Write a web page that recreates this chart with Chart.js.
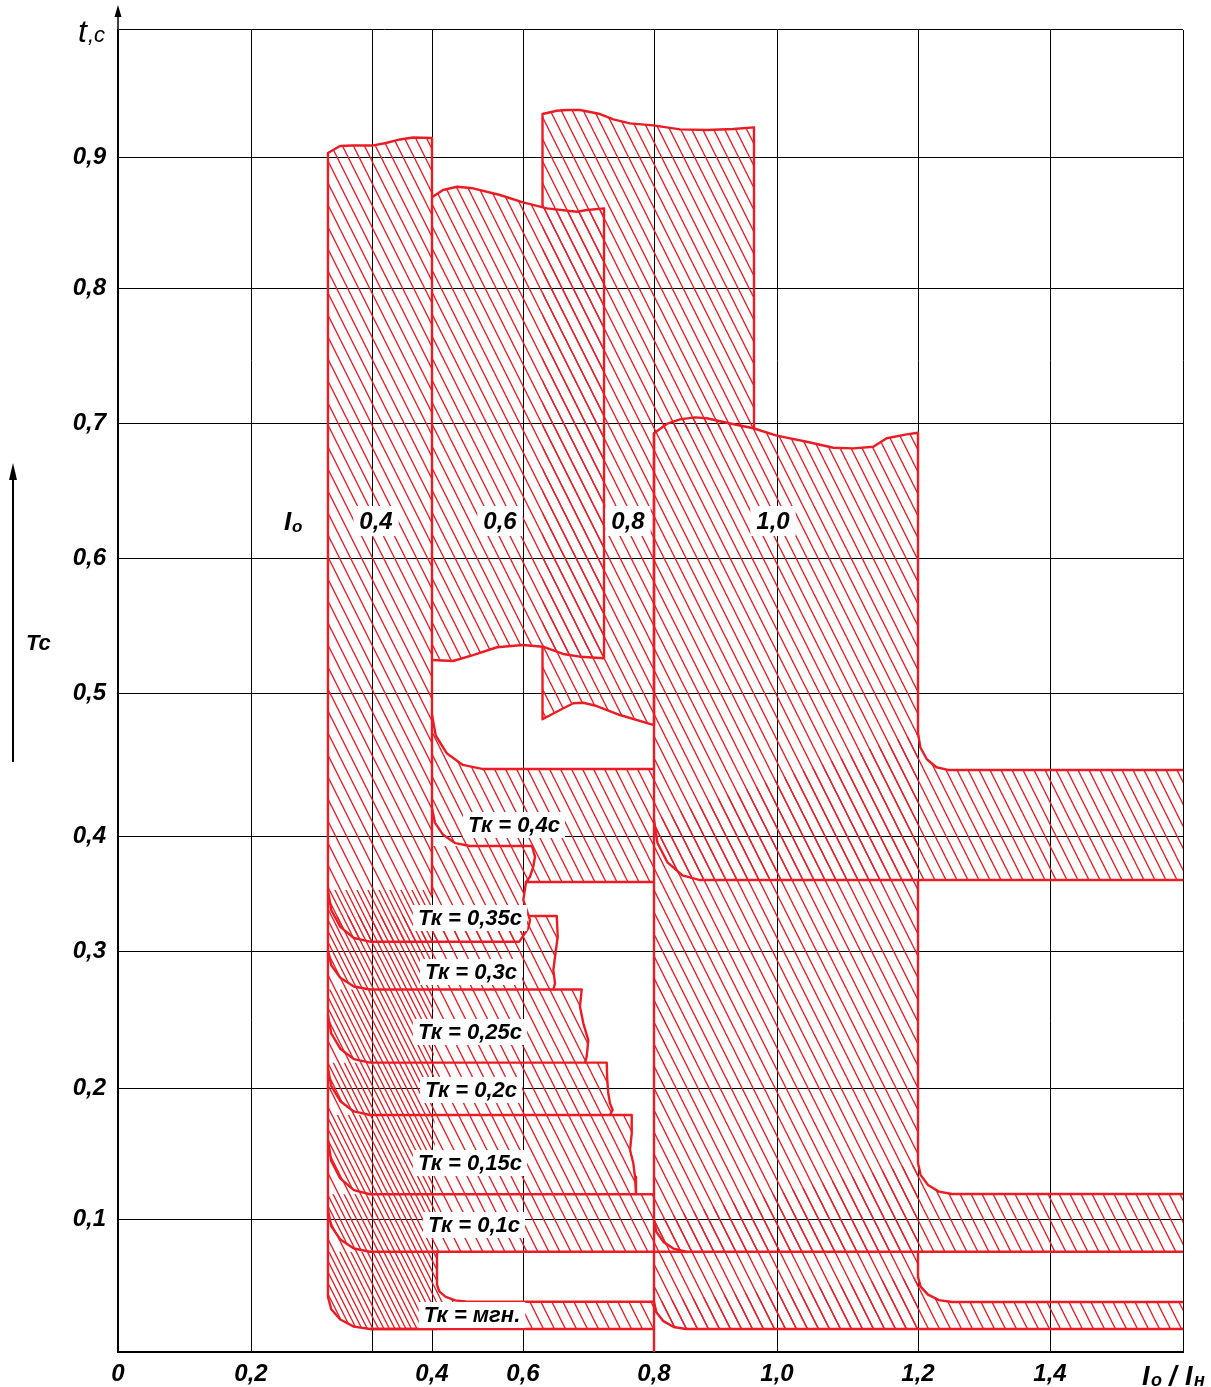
<!DOCTYPE html>
<html>
<head>
<meta charset="utf-8">
<script src="https://cdn.jsdelivr.net/npm/chart.js@4.4.1/dist/chart.umd.min.js"></script>
<style>
  html, body { margin: 0; padding: 0; background: #fff; }
</style>
</head>
<body>
<canvas id="chart" width="1211" height="1387"></canvas>
<script>
const RED = '#ec1c24';
const FONT = "'Liberation Sans', Arial, sans-serif";

// axes: I0/In horizontally, t (s) vertically
const xTickValues = [0, 0.2, 0.3, 0.4, 0.6, 0.8, 1.0, 1.2, 1.4, 1.6];
const xTickLabels = ['0', '0,2', '', '0,4', '0,6', '0,8', '1,0', '1,2', '1,4', ''];
const yTickValues = [0, 0.1, 0.2, 0.3, 0.4, 0.5, 0.6, 0.7, 0.8, 0.9, 0.9955];
const yTickLabels = ['', '0,1', '0,2', '0,3', '0,4', '0,5', '0,6', '0,7', '0,8', '0,9', ''];

// columns for I0 = 0.4, 0.6, 0.8, 1.0  ([I0/In, t])
const col04 = [[0.4,0.3487],[0.4,0.9143],[0.3683,0.9147],[0.3467,0.9132],[0.3233,0.9105],[0.3,0.9086],[0.2835,0.9086],[0.2736,0.9083],[0.2636,0.9030],[0.2636,0.0414],[0.2663,0.0321],[0.2738,0.0244],[0.2850,0.0191],[0.2983,0.0173],[0.4110,0.0173]];
const col06 = [[0.4,0.8692],[0.4242,0.8748],[0.4549,0.8773],[0.4901,0.8761],[0.5495,0.8710],[0.6,0.8654],[0.6366,0.8608],[0.6824,0.8582],[0.6977,0.8595],[0.7237,0.8608],[0.7237,0.5257],[0.6870,0.5269],[0.6611,0.5289],[0.6305,0.5343],[0.6,0.5356],[0.5429,0.5339],[0.4901,0.5281],[0.4462,0.5237],[0.4,0.5244]];
const col08 = [[0.8,0.6924],[0.8,0.4776],[0.7481,0.4846],[0.7125,0.4909],[0.6921,0.4932],[0.6768,0.4928],[0.6565,0.4881],[0.6298,0.4816],[0.6298,0.5343],[0.6298,0.8617],[0.6298,0.9323],[0.6515,0.9348],[0.6667,0.9353],[0.6870,0.9353],[0.7176,0.9323],[0.7379,0.9283],[0.7634,0.9253],[0.7989,0.9238],[0.8423,0.9208],[0.8857,0.9203],[0.9289,0.9211],[0.9626,0.9223],[0.9626,0.6961]];
const col10 = [[0.8,0],[0.8,0.6924],[0.8207,0.6993],[0.8423,0.7027],[0.8667,0.7042],[0.8857,0.7035],[0.9182,0.7002],[0.9615,0.6961],[0.9995,0.6906],[1.0421,0.6861],[1.0799,0.6817],[1.1083,0.6812],[1.1366,0.6824],[1.1556,0.6887],[1.1840,0.6916],[1.2,0.6928],[1.2,0.4720],[1.2,0.3617],[1.2,0.1427],[1.2,0.0754],[1.2,0.0564],[1.2,0.0173],[0.8520,0.0173],[0.8320,0.0188],[0.8153,0.0232],[0.8039,0.0298],[0.8,0.0376]];

// Tk bands
const band040 = [[0.4,0.4846],[0.4084,0.4701],[0.4323,0.4579],[0.4679,0.4497],[0.5099,0.4469],[0.8,0.4469],[0.8,0.3600],[0.6046,0.3600],[0.6107,0.3646],[0.6157,0.3733],[0.6183,0.3820],[0.6137,0.3913],[0.4835,0.3913],[0.4514,0.3938],[0.4244,0.4008],[0.4064,0.4094],[0.4,0.4196]];
const band035 = [[0.4835,0.3913],[0.6137,0.3913],[0.6183,0.3820],[0.6157,0.3733],[0.6107,0.3646],[0.6046,0.3600],[0.6005,0.3443],[0.6056,0.3357],[0.6107,0.3270],[0.6081,0.3197],[0.5919,0.3081],[0.2983,0.3081],[0.2850,0.3113],[0.2738,0.3210],[0.2663,0.3357],[0.2636,0.3530],[0.4,0.3530],[0.4,0.3913]];
const band030 = [[0.6084,0.3304],[0.6515,0.3304],[0.6530,0.3124],[0.6489,0.2958],[0.6463,0.2861],[0.6489,0.2764],[0.6463,0.2719],[0.2983,0.2719],[0.2850,0.2741],[0.2738,0.2804],[0.2663,0.2897],[0.2636,0.3009],[0.2636,0.3304]];
const band025 = [[0.6463,0.2719],[0.6896,0.2719],[0.6870,0.2593],[0.6921,0.2472],[0.6997,0.2350],[0.6972,0.2228],[0.6947,0.2185],[0.2983,0.2185],[0.2850,0.2211],[0.2738,0.2287],[0.2663,0.2399],[0.2636,0.2533],[0.2636,0.2719]];
const band020 = [[0.6947,0.2185],[0.7278,0.2185],[0.7287,0.2058],[0.7302,0.1960],[0.7328,0.1883],[0.7369,0.1832],[0.7328,0.1794],[0.2983,0.1794],[0.2850,0.1821],[0.2738,0.1899],[0.2663,0.2015],[0.2636,0.2146],[0.2636,0.2185]];
const band015 = [[0.7328,0.1794],[0.7660,0.1794],[0.7660,0.1654],[0.7634,0.1527],[0.7684,0.1425],[0.7710,0.1323],[0.7725,0.1189],[0.2983,0.1189],[0.2850,0.1220],[0.2738,0.1310],[0.2663,0.1444],[0.2636,0.1603],[0.2636,0.1794]];
const band010 = [[0.7725,0.1189],[0.8,0.1189],[0.8,0.0754],[0.8520,0.0754],[0.2983,0.0754],[0.2850,0.0778],[0.2738,0.0846],[0.2663,0.0947],[0.2636,0.1069],[0.2636,0.1189]];
const bandInst = [[0.4110,0.0754],[0.4110,0.0504],[0.4160,0.0456],[0.4303,0.0415],[0.4516,0.0388],[0.4769,0.0378],[0.8,0.0378],[0.8,0.0173],[0.2983,0.0173],[0.2850,0.0191],[0.2738,0.0244],[0.2663,0.0321],[0.2636,0.0414],[0.2636,0.0754]];

// bands running right of the I0 = 1.0 column
const strip040 = [[0.8,0.4112],[0.8057,0.3939],[0.8220,0.3770],[0.8462,0.3657],[0.8748,0.3617],[1.6,0.3617],[1.6,0.4462],[1.2455,0.4462],[1.2280,0.4481],[1.2133,0.4537],[1.2035,0.4621],[1.2,0.4720]];
const strip010 = [[0.8,0.0992],[0.8039,0.0903],[0.8153,0.0828],[0.8320,0.0777],[0.8520,0.0754],[1.6,0.0754],[1.6,0.1191],[1.2515,0.1191],[1.2318,0.1209],[1.2152,0.1260],[1.2039,0.1337],[1.2,0.1427]];
const stripInst = [[0.8,0.0376],[0.8039,0.0298],[0.8153,0.0232],[0.8320,0.0188],[0.8520,0.0173],[1.6,0.0173],[1.6,0.0376],[1.2515,0.0376],[1.2318,0.0390],[1.2152,0.0431],[1.2039,0.0492],[1.2,0.0564]];

// text labels
const tkLabels = ['Тк = 0,4с', 'Тк = 0,35с', 'Тк = 0,3с', 'Тк = 0,25с', 'Тк = 0,2с', 'Тк = 0,15с', 'Тк = 0,1с', 'Тк = мгн.'];
const tkSpots = [[0.5802,0.4077],[0.4835,0.3287],[0.4857,0.2847],[0.4835,0.2409],[0.4857,0.1985],[0.4835,0.1427],[0.4923,0.0955],[0.4879,0.0278]];
const ioLabels = ['0,4', '0,6', '0,8', '1,0'];
const ioSpots = [[0.3067,0.6274],[0.5495,0.6274],[0.7603,0.6274],[0.9935,0.6274]];

// piecewise axis: where each grid value sits along the axis (fraction of its length)
const warpKnots = {
  x: { values: xTickValues, frac: [0, 133, 254, 314, 405, 536, 659, 800, 932, 1065].map(v => v / 1065) },
  y: { values: [0, 0.1, 0.2, 0.3, 0.4, 0.5, 0.6, 0.7, 0.8, 0.9, 1.0], frac: [0, 133, 264, 401, 516, 659, 794, 929, 1064, 1195, 1328].map(v => v / 1322) }
};

class WarpScale extends Chart.LinearScale {
  static id = 'warp';
  getPixelForValue(value) {
    const k = warpKnots[this.id];
    let i = 1;
    while (i < k.values.length - 1 && value > k.values[i]) i++;
    const t = (value - k.values[i - 1]) / (k.values[i] - k.values[i - 1]);
    const f = k.frac[i - 1] + t * (k.frac[i] - k.frac[i - 1]);
    return this.isHorizontal() ? this.left + f * this.width : this.bottom - f * this.height;
  }
  getValueForPixel(pixel) {
    const k = warpKnots[this.id];
    const f = this.isHorizontal() ? (pixel - this.left) / this.width : (this.bottom - pixel) / this.height;
    let i = 1;
    while (i < k.frac.length - 1 && f > k.frac[i]) i++;
    return k.values[i - 1] + (f - k.frac[i - 1]) / (k.frac[i] - k.frac[i - 1]) * (k.values[i] - k.values[i - 1]);
  }
}
Chart.register(WarpScale);

// hatch pattern, anchored to the canvas so overlapping areas line up
const patterns = {};
function hatchPattern(ctx, shift) {
  if (!patterns[shift]) {
    const tile = document.createElement('canvas');
    tile.width = 11; tile.height = 22;
    const t = tile.getContext('2d');
    t.strokeStyle = RED;
    t.lineWidth = 1.3;
    for (let k = -2; k <= 2; k++) {
      const x0 = k * 11 + shift;
      t.beginPath();
      t.moveTo(x0 - 1, -2);
      t.lineTo(x0 + 12, 24);
      t.stroke();
    }
    patterns[shift] = ctx.createPattern(tile, 'repeat');
  }
  return patterns[shift];
}

function area(pts, skip, shift) {
  return {
    data: pts.map(p => ({ x: p[0], y: p[1] })),
    showLine: true,
    pointRadius: 0,
    borderColor: RED,
    borderWidth: 2.4,
    borderJoinStyle: 'round',
    tension: 0,
    fill: false,
    hatch: true,
    hatchShift: shift || 0,
    segment: { borderColor: c => skip.includes(c.p0DataIndex) ? 'rgba(0,0,0,0)' : undefined }
  };
}

const datasets = [
  area(col04, [], 5.5),
  area(col06, []),
  area(col08, [8]),
  area(col10, [16, 18, 20, 21, 22, 23, 24, 25]),
  area(band040, [5]),
  area(band035, [0, 1, 2, 3, 4, 15, 16]),
  area(band030, [11]),
  area(band025, [11]),
  area(band020, [11]),
  area(band015, [11]),
  area(band010, [1, 8]),
  area(bandInst, [6, 8, 9, 10, 11, 12]),
  area(strip040, [5]),
  area(strip010, [5]),
  area(stripInst, [5])
];

const hatchPlugin = {
  id: 'hatchFill',
  beforeDatasetDraw(chart, args) {
    const ds = chart.data.datasets[args.index];
    if (!ds.hatch) return;
    const pts = args.meta.data;
    const ctx = chart.ctx;
    const a = chart.chartArea;
    ctx.save();
    ctx.beginPath();
    ctx.rect(a.left, a.top, a.right - a.left, a.bottom - a.top);
    ctx.clip();
    ctx.beginPath();
    pts.forEach((p, i) => i ? ctx.lineTo(p.x, p.y) : ctx.moveTo(p.x, p.y));
    ctx.closePath();
    ctx.fillStyle = hatchPattern(ctx, ds.hatchShift);
    ctx.fill();
    ctx.restore();
  }
};

function boxedText(ctx, text, x, y, font, padX, h) {
  ctx.font = font;
  const w = ctx.measureText(text).width;
  ctx.fillStyle = '#fff';
  ctx.fillRect(x - w / 2 - padX, y - h / 2, w + padX * 2, h);
  ctx.fillStyle = '#000';
  ctx.textAlign = 'center';
  ctx.textBaseline = 'middle';
  ctx.fillText(text, x, y + 1);
}

const labelPlugin = {
  id: 'labels',
  afterDatasetsDraw(chart) {
    const ctx = chart.ctx;
    const sx = chart.scales.x, sy = chart.scales.y;
    ctx.save();
    tkLabels.forEach((t, i) => {
      boxedText(ctx, t, sx.getPixelForValue(tkSpots[i][0]), sy.getPixelForValue(tkSpots[i][1]), `italic bold 22px ${FONT}`, 5, 26);
    });
    ioLabels.forEach((t, i) => {
      boxedText(ctx, t, sx.getPixelForValue(ioSpots[i][0]), sy.getPixelForValue(ioSpots[i][1]), `italic bold 24px ${FONT}`, 6, 30);
    });
    // I0 marker left of the columns
    const ix = sx.getPixelForValue(0.2347), iy = sy.getPixelForValue(0.6274);
    ctx.fillStyle = '#000';
    ctx.textBaseline = 'alphabetic';
    ctx.textAlign = 'left';
    ctx.font = `italic bold 26px ${FONT}`;
    ctx.fillText('I', ix - 9, iy + 9);
    ctx.font = `italic bold 17px ${FONT}`;
    ctx.fillText('о', ix - 1, iy + 11);
    ctx.restore();
  },
  afterDraw(chart) {
    const ctx = chart.ctx;
    const a = chart.chartArea;
    ctx.save();
    ctx.strokeStyle = '#000';
    ctx.fillStyle = '#000';
    // y axis arrow
    ctx.lineWidth = 1.5;
    ctx.beginPath();
    ctx.moveTo(a.left, a.top);
    ctx.lineTo(a.left, a.top - 20);
    ctx.stroke();
    ctx.beginPath();
    ctx.moveTo(a.left, a.top - 25);
    ctx.lineTo(a.left - 3.5, a.top - 13);
    ctx.lineTo(a.left + 3.5, a.top - 13);
    ctx.closePath();
    ctx.fill();
    // Tc arrow
    ctx.lineWidth = 2;
    ctx.beginPath();
    ctx.moveTo(13, 762);
    ctx.lineTo(13, 476);
    ctx.stroke();
    ctx.beginPath();
    ctx.moveTo(13, 463);
    ctx.lineTo(9, 480);
    ctx.lineTo(17, 480);
    ctx.closePath();
    ctx.fill();
    ctx.textBaseline = 'alphabetic';
    ctx.textAlign = 'left';
    ctx.font = `italic bold 22px ${FONT}`;
    ctx.fillText('Тс', 26, 650);
    // t,c
    ctx.font = `italic 32px ${FONT}`;
    ctx.fillText('t', 78, 42);
    ctx.font = `italic 22px ${FONT}`;
    ctx.fillText(',с', 88, 42);
    // Io / Iн
    const bx = 1142, by = 1385;
    ctx.font = `italic bold 27px ${FONT}`;
    ctx.fillText('I', bx, by);
    ctx.font = `italic bold 18px ${FONT}`;
    ctx.fillText('о', bx + 9, by + 1);
    ctx.font = `italic bold 27px ${FONT}`;
    ctx.fillText('/', bx + 27, by);
    ctx.fillText('I', bx + 43, by);
    ctx.font = `italic bold 18px ${FONT}`;
    ctx.fillText('н', bx + 52, by + 1);
    ctx.restore();
  }
};

const tickFont = { family: FONT, size: 24, style: 'italic', weight: 'bold' };

new Chart(document.getElementById('chart'), {
  type: 'scatter',
  data: { datasets },
  options: {
    responsive: false,
    animation: false,
    events: [],
    layout: { padding: { top: 30, right: 28, left: 0, bottom: 0 } },
    plugins: { legend: { display: false }, tooltip: { enabled: false } },
    scales: {
      x: {
        type: 'warp', position: 'bottom', min: 0, max: 1.6, bounds: 'data',
        afterBuildTicks: s => { s.ticks = xTickValues.map(v => ({ value: v })); },
        afterFit: s => { s.height = 35; },
        grid: { color: '#000', lineWidth: 1, drawTicks: false },
        border: { color: '#000', width: 2 },
        ticks: { autoSkip: false, maxRotation: 0, padding: 8, color: '#000', font: tickFont, callback: (v, i) => xTickLabels[i] }
      },
      y: {
        type: 'warp', position: 'left', min: 0, max: 0.9955, bounds: 'data',
        afterBuildTicks: s => { s.ticks = yTickValues.map(v => ({ value: v })); },
        afterFit: s => { s.width = 118; },
        grid: { color: '#000', lineWidth: 1, drawTicks: false },
        border: { color: '#000', width: 1.5 },
        ticks: { autoSkip: false, padding: 12, color: '#000', font: tickFont, callback: (v, i) => yTickLabels[i] }
      }
    }
  },
  plugins: [hatchPlugin, labelPlugin]
});
</script>
</body>
</html>
